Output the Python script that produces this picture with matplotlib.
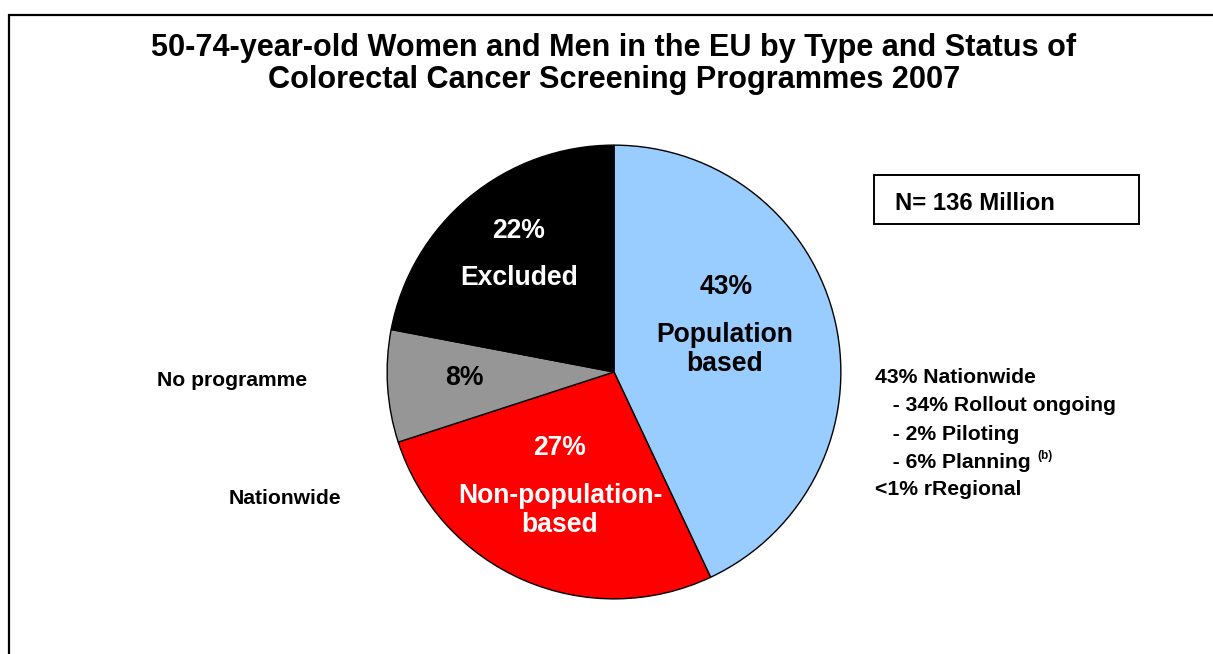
import matplotlib.pyplot as plt
from matplotlib.patches import Rectangle

W, H = 1213, 654

# data
categories = ['Population based', 'Non-population-based', 'No programme', 'Excluded']
shares = [43, 27, 8, 22]
colors = ['#99CCFF', '#FF0000', '#969696', '#000000']

title_lines = ['50-74-year-old Women and Men in the EU by Type and Status of',
               'Colorectal Cancer Screening Programmes 2007']
total_label = 'N= 136 Million'
notes = ['43% Nationwide', '   - 34% Rollout ongoing', '   - 2% Piloting',
         '   - 6% Planning', '<1% rRegional']

plt.rcParams['font.family'] = ['Liberation Sans', 'DejaVu Sans']
plt.rcParams['font.weight'] = 'bold'


def fx(x):
    return x / W


def fy(y):
    return 1 - y / H


fig = plt.figure(figsize=(W / 100, H / 100), dpi=100)

# outer frame (runs off the right and bottom edges)
fig.patches.append(Rectangle((fx(9), -0.2), 1.2, fy(15) + 0.2, transform=fig.transFigure,
                             fill=False, edgecolor='black', linewidth=1.6))

# pie axes: centre (614, 372), radius 228 px
cx, cy, r = 614, 372, 228
ax = fig.add_axes([fx(cx - r), fy(cy + r), 2 * r / W, 2 * r / H])
ax.pie(shares, colors=colors, startangle=90, counterclock=False, radius=1,
       wedgeprops=dict(edgecolor='black', linewidth=1))
ax.set_xlim(-1.005, 1.005)
ax.set_ylim(-1.005, 1.005)
ax.set_aspect('equal')
ax.axis('off')

# title
for line, y in zip(title_lines, [56, 88]):
    fig.text(fx(614), fy(y), line, ha='center', va='baseline', fontsize=22.1, weight='bold')

# labels inside the pie
inner = [
    ('22%', 519, 238, 'white'), ('Excluded', 519, 285, 'white'),
    ('43%', 726, 294, 'black'), ('Population', 725, 342, 'black'), ('based', 725, 371, 'black'),
    ('8%', 464, 385, 'black'),
    ('27%', 560, 455, 'white'), ('Non-population-', 560, 503, 'white'), ('based', 560, 532, 'white'),
]
for txt, x, y, c in inner:
    fig.text(fx(x), fy(y), txt, ha='center', va='baseline', fontsize=19.1, weight='bold', color=c)

# side labels
fig.text(fx(157), fy(386), 'No programme', ha='left', va='baseline', fontsize=15.2, weight='bold')
fig.text(fx(229), fy(504), 'Nationwide', ha='left', va='baseline', fontsize=15.2, weight='bold')

# N box
fig.patches.append(Rectangle((fx(874), fy(224)), fx(1139) - fx(874), fy(175) - fy(224),
                             transform=fig.transFigure, fill=False, edgecolor='black', linewidth=1.4))
fig.text(fx(895), fy(210), total_label, ha='left', va='baseline', fontsize=17.2, weight='bold')

# notes on the right
for txt, y in zip(notes, [383, 411, 440, 468, 495]):
    fig.text(fx(875), fy(y), txt, ha='left', va='baseline', fontsize=15.2, weight='bold')
fig.text(fx(1037), fy(459), '(b)', ha='left', va='baseline', fontsize=8.5, weight='bold')

fig.savefig('out.png', dpi=100)
